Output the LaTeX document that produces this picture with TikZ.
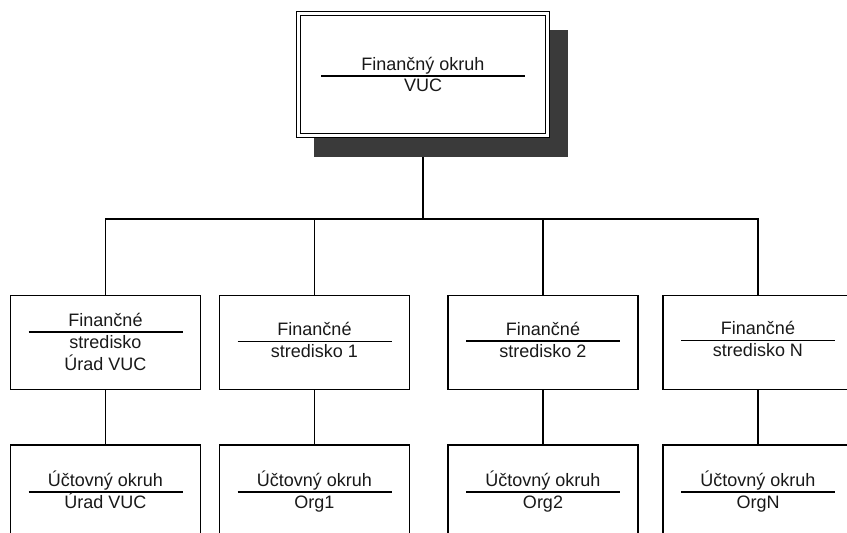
\documentclass[tikz,border=0pt]{standalone}
\usepackage{fontspec}
\setmainfont{Liberation Sans}
\usetikzlibrary{calc}
\usetikzlibrary{backgrounds}
\definecolor{shadowgray}{HTML}{3A3A3A}

\begin{document}
\begin{tikzpicture}[x=1pt, y=-1pt,
  unit/.style={draw, line width=1.2pt, fill=white, inner sep=0, outer sep=0, minimum width=190pt, minimum height=94pt},
  lbl/.style={inner sep=0, font=\fontsize{18pt}{22pt}\selectfont, text=black!90},
  rule/.style={line width=1.2pt},
  link/.style={line width=1.1pt}]
\useasboundingbox (0,0) rectangle (847,533);
% top box
\node[draw, double, double distance=2.6pt, line width=1.2pt, fill=white, inner sep=0, outer sep=0, minimum width=249pt, minimum height=122pt] (fo) at (423,74.5) {};
\draw[rule] ($(fo.center)+(-102,1.5)$) -- ++(204,0);
\node[lbl, anchor=base] (fo-t) at ($(fo.center)+(0,-4.5)$) {Finančný okruh};
\node[lbl, anchor=base] (fo-b) at ($(fo.center)+(0,16.5)$) {VUC};
% columns
\foreach \i/\x/\r/\a/\b in {1/105.5/-10.5/stredisko/Úrad VUC, 2/314.5/-1/stredisko 1/Org1, 3/543/-1.5/stredisko 2/Org2, 4/758/-2/stredisko N/OrgN} {
  \node[unit] (fs\i) at (\x,342.5) {};
  \draw[rule] ($(fs\i.center)+(-77,\r)$) -- ++(154,0);
  \node[lbl, anchor=base] (fs\i-t) at ($(fs\i.center)+(0,\r-6)$) {Finančné};
  \node[lbl, anchor=base] (fs\i-b) at ($(fs\i.center)+(0,\r+16)$) {\a};
  \node[unit] (uo\i) at (\x,492) {};
  \draw[rule] ($(uo\i.center)+(-77,0)$) -- ++(154,0);
  \node[lbl, anchor=base] (uo\i-t) at ($(uo\i.center)+(0,-6)$) {Účtovný okruh};
  \node[lbl, anchor=base] (uo\i-b) at ($(uo\i.center)+(0,16)$) {\b};
}
\node[lbl, anchor=base] (fs1-c) at ($(fs1-b.base)+(0,22)$) {Úrad VUC};
% links and shadow
\begin{scope}[on background layer]
\coordinate (bus) at (423,219);
\draw[link] (fo.south) -- (bus);
\foreach \i in {1,...,4} {
  \draw[link] (bus) -| (fs\i.north);
  \draw[link] (fs\i.south) -- (uo\i.north);
}
\fill[shadowgray] ($(fo.north west)+(15.5,16.5)$) rectangle ($(fo.south east)+(20.5,21.5)$);
\end{scope}
\end{tikzpicture}
\end{document}
